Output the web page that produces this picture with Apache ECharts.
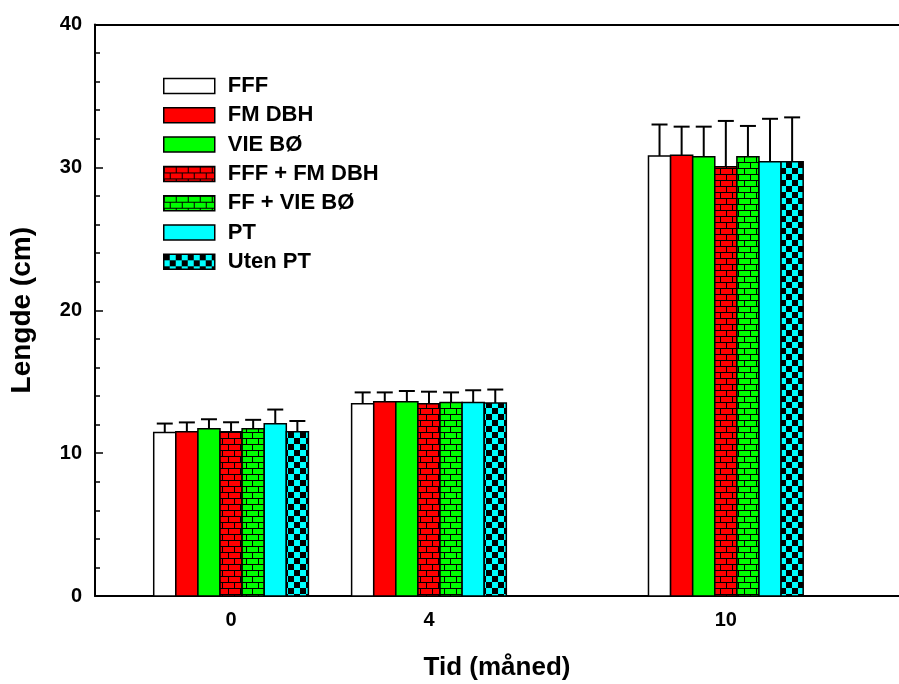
<!DOCTYPE html>
<html>
<head>
<meta charset="utf-8">
<script src="https://cdn.jsdelivr.net/npm/echarts@6/dist/echarts.min.js"></script>
<style>
    html, body {margin: 0; padding: 0; background: #fff;}
    #chart {width: 899px; height: 684px;}
</style>
</head>
<body>
<div id="chart"></div>
<script>
// tidspunkt (måned) og gruppenavn
let months = [0, 4, 10];
let names = ['FFF', 'FM DBH', 'VIE BØ', 'FFF + FM DBH', 'FF + VIE BØ', 'PT', 'Uten PT'];

// gjennomsnittlig lengde (cm) per gruppe
let meanFFF = [11.45, 13.45, 30.8];
let meanFMDBH = [11.5, 13.6, 30.85];
let meanVIE = [11.7, 13.6, 30.75];
let meanFFFFM = [11.5, 13.45, 30.05];
let meanFFVIE = [11.7, 13.55, 30.75];
let meanPT = [12.05, 13.55, 30.4];
let meanUtenPT = [11.5, 13.5, 30.4];

// standardavvik
let sdFFF = [0.62, 0.8, 2.2];
let sdFMDBH = [0.65, 0.65, 2.0];
let sdVIE = [0.67, 0.75, 2.1];
let sdFFFFM = [0.66, 0.85, 3.2];
let sdFFVIE = [0.63, 0.7, 2.15];
let sdPT = [1.0, 0.85, 3.0];
let sdUtenPT = [0.75, 0.95, 3.1];

let yTicks = [0, 10, 20, 30, 40];

let means = [meanFFF, meanFMDBH, meanVIE, meanFFFFM, meanFFVIE, meanPT, meanUtenPT];
let sds = [sdFFF, sdFMDBH, sdVIE, sdFFFFM, sdFFVIE, sdPT, sdUtenPT];

let BAR_PX = 22.1;
let CAP_PX = 16;

// murstein-mønster
let brick = (fill) => {
    let c = document.createElement('canvas');
    c.width = 12;
    c.height = 12;
    let ctx = c.getContext('2d');
    ctx.fillStyle = fill;
    ctx.fillRect(0, 0, 12, 12);
    ctx.fillStyle = '#000';
    ctx.fillRect(0, 0, 12, 1);
    ctx.fillRect(0, 6, 12, 1);
    ctx.fillRect(0, 0, 1, 6);
    ctx.fillRect(6, 6, 1, 6);
    return {image: c, repeat: 'repeat'};
};

// sjakkbrett-mønster
let checker = (fill) => {
    let c = document.createElement('canvas');
    c.width = 12;
    c.height = 12;
    let ctx = c.getContext('2d');
    ctx.fillStyle = fill;
    ctx.fillRect(0, 0, 12, 12);
    ctx.fillStyle = '#000';
    ctx.fillRect(0, 0, 6, 6);
    ctx.fillRect(6, 6, 6, 6);
    return {image: c, repeat: 'repeat'};
};

let fills = ['#ffffff', '#ff0000', '#00ff00', brick('#ff0000'), brick('#00ff00'), '#00ffff', checker('#00ffff')];

let renderItem = (idx) => {
    return (params, api) => {
        let x = api.value(0);
        let v = api.value(1);
        let e = api.value(2);
        let base = api.coord([x, 0]);
        let top = api.coord([x, v]);
        let errTop = api.coord([x, v + e]);
        let cx = base[0] + (idx - 3) * BAR_PX;
        let lineStyle = {stroke: '#000', lineWidth: 2};
        return {
            type: 'group',
            children: [
                {
                    type: 'line',
                    shape: {x1: cx, y1: top[1], x2: cx, y2: errTop[1]},
                    style: lineStyle
                },
                {
                    type: 'line',
                    shape: {x1: cx - CAP_PX / 2, y1: errTop[1], x2: cx + CAP_PX / 2, y2: errTop[1]},
                    style: lineStyle
                },
                {
                    type: 'rect',
                    shape: {x: cx - BAR_PX / 2, y: top[1], width: BAR_PX, height: base[1] - top[1]},
                    style: {fill: fills[idx], stroke: '#000', lineWidth: 1.5}
                }
            ]
        };
    };
};

let series = names.map((name, i) => {
    return {
        name: name,
        type: 'custom',
        renderItem: renderItem(i),
        itemStyle: {color: fills[i], borderColor: '#000', borderWidth: 1.5},
        encode: {x: 0, y: 1},
        data: months.map((m, j) => [m, means[i][j], sds[i][j]])
    };
});

let font = 'Liberation Sans, Arial, sans-serif';

let option = {
    animation: false,
    backgroundColor: '#fff',
    grid: {left: 95, top: 24.5, right: 0, bottom: 88, containLabel: false, outerBoundsMode: 'none'},
    legend: {
        orient: 'vertical',
        left: 158,
        top: 70,
        icon: 'rect',
        itemWidth: 51,
        itemHeight: 15,
        itemGap: 7.3,
        itemStyle: {borderColor: '#000', borderWidth: 1.5},
        textStyle: {fontFamily: font, fontWeight: 'bold', fontSize: 22, color: '#000', lineHeight: 22, padding: [0, 0, 0, 8]},
        data: names
    },
    xAxis: [
        {
            type: 'value',
            min: -2.75,
            max: 13.5,
            name: 'Tid (måned)',
            nameLocation: 'middle',
            nameGap: 59,
            nameTextStyle: {fontFamily: font, fontWeight: 'bold', fontSize: 26, color: '#000'},
            axisLine: {show: true, onZero: false, lineStyle: {color: '#000', width: 2}},
            axisTick: {show: false},
            splitLine: {show: false},
            axisLabel: {
                customValues: months,
                margin: 14,
                fontFamily: font,
                fontWeight: 'bold',
                fontSize: 20,
                color: '#000'
            }
        },
        {
            type: 'value',
            position: 'top',
            min: -2.75,
            max: 13.5,
            axisLine: {show: true, onZero: false, lineStyle: {color: '#000', width: 2}},
            axisTick: {show: false},
            axisLabel: {show: false},
            splitLine: {show: false}
        }
    ],
    yAxis: {
        type: 'value',
        min: 0,
        max: 40,
        interval: 10,
        name: 'Lengde (cm)',
        nameLocation: 'middle',
        nameGap: 59,
        nameTextStyle: {fontFamily: font, fontWeight: 'bold', fontSize: 28, color: '#000'},
        axisLine: {show: true, onZero: false, lineStyle: {color: '#000', width: 2}},
        axisTick: {show: true, inside: true, length: 8, lineStyle: {color: '#000', width: 1.5}},
        minorTick: {show: true, splitNumber: 5, length: 5, lineStyle: {color: '#000', width: 1.5}},
        splitLine: {show: false},
        axisLabel: {
            customValues: yTicks,
            margin: 13,
            fontFamily: font,
            fontWeight: 'bold',
            fontSize: 20,
            color: '#000'
        }
    },
    series: series
};

let chart = echarts.init(document.getElementById('chart'));
chart.setOption(option);
</script>
</body>
</html>
